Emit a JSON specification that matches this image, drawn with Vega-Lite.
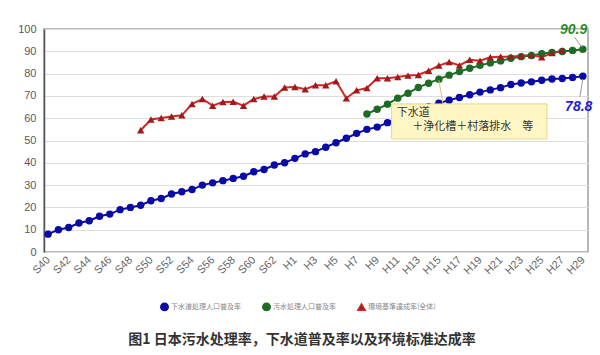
{
  "$schema": "https://vega.github.io/schema/vega-lite/v6.json",
  "width": 544,
  "height": 223,
  "autosize": {"type": "none"},
  "padding": {"left": 44, "top": 29, "right": 12, "bottom": 103},
  "background": "white",
  "config": {
    "view": {"stroke": "#a0a0a0", "strokeWidth": 1.5},
    "font": "Liberation Sans"
  },
  "title": {
    "text": "图1 日本污水处理率，下水道普及率以及环境标准达成率",
    "orient": "bottom",
    "anchor": "middle",
    "frame": "group",
    "offset": 19,
    "dx": -14,
    "font": "Noto Sans CJK SC",
    "fontSize": 14,
    "fontWeight": "bold",
    "color": "#333333"
  },
  "layer": [
    {
      "data": {
        "values": [
          {"year": 1965, "series": "下水道処理人口普及率", "value": 8},
          {"year": 1966, "series": "下水道処理人口普及率", "value": 10},
          {"year": 1967, "series": "下水道処理人口普及率", "value": 11},
          {"year": 1968, "series": "下水道処理人口普及率", "value": 13},
          {"year": 1969, "series": "下水道処理人口普及率", "value": 14},
          {"year": 1970, "series": "下水道処理人口普及率", "value": 16},
          {"year": 1971, "series": "下水道処理人口普及率", "value": 17},
          {"year": 1972, "series": "下水道処理人口普及率", "value": 19},
          {"year": 1973, "series": "下水道処理人口普及率", "value": 20},
          {"year": 1974, "series": "下水道処理人口普及率", "value": 21},
          {"year": 1975, "series": "下水道処理人口普及率", "value": 23},
          {"year": 1976, "series": "下水道処理人口普及率", "value": 24},
          {"year": 1977, "series": "下水道処理人口普及率", "value": 26},
          {"year": 1978, "series": "下水道処理人口普及率", "value": 27},
          {"year": 1979, "series": "下水道処理人口普及率", "value": 28},
          {"year": 1980, "series": "下水道処理人口普及率", "value": 30},
          {"year": 1981, "series": "下水道処理人口普及率", "value": 31},
          {"year": 1982, "series": "下水道処理人口普及率", "value": 32},
          {"year": 1983, "series": "下水道処理人口普及率", "value": 33},
          {"year": 1984, "series": "下水道処理人口普及率", "value": 34},
          {"year": 1985, "series": "下水道処理人口普及率", "value": 36},
          {"year": 1986, "series": "下水道処理人口普及率", "value": 37},
          {"year": 1987, "series": "下水道処理人口普及率", "value": 39},
          {"year": 1988, "series": "下水道処理人口普及率", "value": 40},
          {"year": 1989, "series": "下水道処理人口普及率", "value": 42},
          {"year": 1990, "series": "下水道処理人口普及率", "value": 44},
          {"year": 1991, "series": "下水道処理人口普及率", "value": 45},
          {"year": 1992, "series": "下水道処理人口普及率", "value": 47},
          {"year": 1993, "series": "下水道処理人口普及率", "value": 49},
          {"year": 1994, "series": "下水道処理人口普及率", "value": 51},
          {"year": 1995, "series": "下水道処理人口普及率", "value": 53.2},
          {"year": 1996, "series": "下水道処理人口普及率", "value": 55},
          {"year": 1997, "series": "下水道処理人口普及率", "value": 56},
          {"year": 1998, "series": "下水道処理人口普及率", "value": 58},
          {"year": 1999, "series": "下水道処理人口普及率", "value": 60},
          {"year": 2000, "series": "下水道処理人口普及率", "value": 62},
          {"year": 2001, "series": "下水道処理人口普及率", "value": 63.5},
          {"year": 2002, "series": "下水道処理人口普及率", "value": 65.2},
          {"year": 2003, "series": "下水道処理人口普及率", "value": 66.7},
          {"year": 2004, "series": "下水道処理人口普及率", "value": 68.1},
          {"year": 2005, "series": "下水道処理人口普及率", "value": 69.3},
          {"year": 2006, "series": "下水道処理人口普及率", "value": 70.5},
          {"year": 2007, "series": "下水道処理人口普及率", "value": 71.7},
          {"year": 2008, "series": "下水道処理人口普及率", "value": 72.7},
          {"year": 2009, "series": "下水道処理人口普及率", "value": 73.7},
          {"year": 2010, "series": "下水道処理人口普及率", "value": 75.1},
          {"year": 2011, "series": "下水道処理人口普及率", "value": 75.8},
          {"year": 2012, "series": "下水道処理人口普及率", "value": 76.3},
          {"year": 2013, "series": "下水道処理人口普及率", "value": 77.0},
          {"year": 2014, "series": "下水道処理人口普及率", "value": 77.6},
          {"year": 2015, "series": "下水道処理人口普及率", "value": 77.8},
          {"year": 2016, "series": "下水道処理人口普及率", "value": 78.3},
          {"year": 2017, "series": "下水道処理人口普及率", "value": 78.8},
          {"year": 1996, "series": "汚水処理人口普及率", "value": 61.9},
          {"year": 1997, "series": "汚水処理人口普及率", "value": 64.0},
          {"year": 1998, "series": "汚水処理人口普及率", "value": 66.3},
          {"year": 1999, "series": "汚水処理人口普及率", "value": 69.0},
          {"year": 2000, "series": "汚水処理人口普及率", "value": 71.2},
          {"year": 2001, "series": "汚水処理人口普及率", "value": 73.8},
          {"year": 2002, "series": "汚水処理人口普及率", "value": 75.7},
          {"year": 2003, "series": "汚水処理人口普及率", "value": 77.5},
          {"year": 2004, "series": "汚水処理人口普及率", "value": 79.3},
          {"year": 2005, "series": "汚水処理人口普及率", "value": 80.9},
          {"year": 2006, "series": "汚水処理人口普及率", "value": 82.4},
          {"year": 2007, "series": "汚水処理人口普及率", "value": 83.7},
          {"year": 2008, "series": "汚水処理人口普及率", "value": 84.8},
          {"year": 2009, "series": "汚水処理人口普及率", "value": 85.7},
          {"year": 2010, "series": "汚水処理人口普及率", "value": 86.9},
          {"year": 2011, "series": "汚水処理人口普及率", "value": 87.6},
          {"year": 2012, "series": "汚水処理人口普及率", "value": 88.1},
          {"year": 2013, "series": "汚水処理人口普及率", "value": 88.9},
          {"year": 2014, "series": "汚水処理人口普及率", "value": 89.5},
          {"year": 2015, "series": "汚水処理人口普及率", "value": 89.9},
          {"year": 2016, "series": "汚水処理人口普及率", "value": 90.4},
          {"year": 2017, "series": "汚水処理人口普及率", "value": 90.9},
          {"year": 1974, "series": "環境基準達成率(全体)", "value": 54.6},
          {"year": 1975, "series": "環境基準達成率(全体)", "value": 59.4},
          {"year": 1976, "series": "環境基準達成率(全体)", "value": 60.1},
          {"year": 1977, "series": "環境基準達成率(全体)", "value": 60.8},
          {"year": 1978, "series": "環境基準達成率(全体)", "value": 61.3},
          {"year": 1979, "series": "環境基準達成率(全体)", "value": 66.4},
          {"year": 1980, "series": "環境基準達成率(全体)", "value": 68.6},
          {"year": 1981, "series": "環境基準達成率(全体)", "value": 65.6},
          {"year": 1982, "series": "環境基準達成率(全体)", "value": 67.3},
          {"year": 1983, "series": "環境基準達成率(全体)", "value": 67.4},
          {"year": 1984, "series": "環境基準達成率(全体)", "value": 65.6},
          {"year": 1985, "series": "環境基準達成率(全体)", "value": 68.6},
          {"year": 1986, "series": "環境基準達成率(全体)", "value": 69.7},
          {"year": 1987, "series": "環境基準達成率(全体)", "value": 69.7},
          {"year": 1988, "series": "環境基準達成率(全体)", "value": 73.8},
          {"year": 1989, "series": "環境基準達成率(全体)", "value": 74.0},
          {"year": 1990, "series": "環境基準達成率(全体)", "value": 73.0},
          {"year": 1991, "series": "環境基準達成率(全体)", "value": 74.8},
          {"year": 1992, "series": "環境基準達成率(全体)", "value": 74.8},
          {"year": 1993, "series": "環境基準達成率(全体)", "value": 76.6},
          {"year": 1994, "series": "環境基準達成率(全体)", "value": 68.9},
          {"year": 1995, "series": "環境基準達成率(全体)", "value": 72.5},
          {"year": 1996, "series": "環境基準達成率(全体)", "value": 73.5},
          {"year": 1997, "series": "環境基準達成率(全体)", "value": 77.9},
          {"year": 1998, "series": "環境基準達成率(全体)", "value": 77.9},
          {"year": 1999, "series": "環境基準達成率(全体)", "value": 78.5},
          {"year": 2000, "series": "環境基準達成率(全体)", "value": 79.1},
          {"year": 2001, "series": "環境基準達成率(全体)", "value": 79.4},
          {"year": 2002, "series": "環境基準達成率(全体)", "value": 81.3},
          {"year": 2003, "series": "環境基準達成率(全体)", "value": 83.6},
          {"year": 2004, "series": "環境基準達成率(全体)", "value": 85.2},
          {"year": 2005, "series": "環境基準達成率(全体)", "value": 83.7},
          {"year": 2006, "series": "環境基準達成率(全体)", "value": 86.2},
          {"year": 2007, "series": "環境基準達成率(全体)", "value": 85.8},
          {"year": 2008, "series": "環境基準達成率(全体)", "value": 87.3},
          {"year": 2009, "series": "環境基準達成率(全体)", "value": 87.6},
          {"year": 2010, "series": "環境基準達成率(全体)", "value": 87.6},
          {"year": 2011, "series": "環境基準達成率(全体)", "value": 88.0},
          {"year": 2012, "series": "環境基準達成率(全体)", "value": 88.3},
          {"year": 2013, "series": "環境基準達成率(全体)", "value": 87.3},
          {"year": 2014, "series": "環境基準達成率(全体)", "value": 89.2},
          {"year": 2015, "series": "環境基準達成率(全体)", "value": 90.4}
        ]
      },
      "encoding": {
        "x": {
          "field": "year",
          "type": "quantitative",
          "scale": {"domain": [1964.6, 2017.5], "nice": false, "zero": false},
          "axis": {
            "title": null,
            "values": [1965, 1967, 1969, 1971, 1973, 1975, 1977, 1979, 1981, 1983, 1985, 1987, 1989, 1991, 1993, 1995, 1997, 1999, 2001, 2003, 2005, 2007, 2009, 2011, 2013, 2015, 2017],
            "labelExpr": "datum.value <= 1988 ? 'S' + (datum.value - 1925) : 'H' + (datum.value - 1988)",
            "labelAngle": -45,
            "labelAlign": "right",
            "labelBaseline": "middle",
            "labelFontSize": 11,
            "labelColor": "#666666",
            "labelPadding": 6,
            "ticks": false,
            "grid": false,
            "domain": false,
            "labelOverlap": false
          }
        },
        "y": {
          "field": "value",
          "type": "quantitative",
          "scale": {"domain": [0, 100], "nice": false},
          "axis": {
            "title": null,
            "values": [0, 10, 20, 30, 40, 50, 60, 70, 80, 90, 100],
            "labelFontSize": 11,
            "labelColor": "#595959",
            "labelPadding": 8,
            "ticks": false,
            "grid": true,
            "gridColor": "#dedede",
            "domainColor": "#555555",
            "domainWidth": 1.5
          }
        }
      },
      "layer": [
        {
          "mark": {"type": "line", "strokeWidth": 2},
          "encoding": {
            "color": {
              "field": "series",
              "type": "nominal",
              "scale": {
                "domain": ["下水道処理人口普及率", "汚水処理人口普及率", "環境基準達成率(全体)"],
                "range": ["#0a0aa5", "#1d6b24", "#d02828"]
              },
              "legend": {
                "orient": "none",
                "legendX": 116,
                "legendY": 273,
                "direction": "horizontal",
                "title": null,
                "labelFont": "Noto Sans CJK JP",
                "labelFontSize": 7,
                "labelColor": "#888888",
                "labelOffset": 2,
                "columnPadding": 18,
                "symbolSize": 256,
                "symbolStrokeWidth": 1.5,
                "symbolType": "M-1,0H1M0.3,0A0.3,0.3 0 1,1 -0.3,0A0.3,0.3 0 1,1 0.3,0Z"
              }
            }
          }
        },
        {
          "mark": {"type": "point", "filled": true, "opacity": 1},
          "encoding": {
            "color": {
              "field": "series",
              "type": "nominal",
              "scale": {
                "domain": ["下水道処理人口普及率", "汚水処理人口普及率", "環境基準達成率(全体)"],
                "range": ["#0a0aa5", "#1d6b24", "#d02828"]
              }
            },
            "fill": {
              "field": "series",
              "type": "nominal",
              "scale": {
                "domain": ["下水道処理人口普及率", "汚水処理人口普及率", "環境基準達成率(全体)"],
                "range": ["#0a0aa5", "#1d6b24", "#9e1b1b"]
              },
              "legend": null
            },
            "shape": {
              "field": "series",
              "type": "nominal",
              "scale": {
                "domain": ["下水道処理人口普及率", "汚水処理人口普及率", "環境基準達成率(全体)"],
                "range": ["circle", "circle", "triangle-up"]
              },
              "legend": null
            },
            "size": {
              "field": "series",
              "type": "nominal",
              "scale": {
                "domain": ["下水道処理人口普及率", "汚水処理人口普及率", "環境基準達成率(全体)"],
                "range": [55, 55, 40]
              },
              "legend": null
            }
          }
        }
      ]
    },
    {
      "data": {"values": [{}]},
      "mark": {"type": "rect", "fill": "#fff6c4", "stroke": "#e6d88c", "strokeWidth": 1},
      "encoding": {
        "x": {"datum": 1998.4, "type": "quantitative", "axis": {"values": [1965, 1967, 1969, 1971, 1973, 1975, 1977, 1979, 1981, 1983, 1985, 1987, 1989, 1991, 1993, 1995, 1997, 1999, 2001, 2003, 2005, 2007, 2009, 2011, 2013, 2015, 2017]}},
        "x2": {"datum": 2013.5},
        "y": {"datum": 66.4, "type": "quantitative", "axis": {"values": [0, 10, 20, 30, 40, 50, 60, 70, 80, 90, 100]}},
        "y2": {"datum": 50.7}
      }
    },
    {
      "data": {"values": [{}]},
      "mark": {"type": "rule", "stroke": "#d8c47a", "strokeWidth": 1},
      "encoding": {
        "x": {"datum": 2003.4, "type": "quantitative", "axis": {"values": [1965, 1967, 1969, 1971, 1973, 1975, 1977, 1979, 1981, 1983, 1985, 1987, 1989, 1991, 1993, 1995, 1997, 1999, 2001, 2003, 2005, 2007, 2009, 2011, 2013, 2015, 2017]}},
        "x2": {"datum": 2003.0},
        "y": {"datum": 66.4, "type": "quantitative", "axis": {"values": [0, 10, 20, 30, 40, 50, 60, 70, 80, 90, 100]}},
        "y2": {"datum": 77.0}
      }
    },
    {
      "data": {"values": [{}]},
      "mark": {"type": "text", "text": "下水道", "align": "left", "baseline": "middle", "font": "Noto Sans CJK JP", "fontSize": 11, "color": "#333333"},
      "encoding": {
        "x": {"datum": 1998.9, "type": "quantitative", "axis": {"values": [1965, 1967, 1969, 1971, 1973, 1975, 1977, 1979, 1981, 1983, 1985, 1987, 1989, 1991, 1993, 1995, 1997, 1999, 2001, 2003, 2005, 2007, 2009, 2011, 2013, 2015, 2017]}},
        "y": {"datum": 62.5, "type": "quantitative", "axis": {"values": [0, 10, 20, 30, 40, 50, 60, 70, 80, 90, 100]}}
      }
    },
    {
      "data": {"values": [{}]},
      "mark": {"type": "text", "text": "＋浄化槽＋村落排水　等", "align": "left", "baseline": "middle", "font": "Noto Sans CJK JP", "fontSize": 11, "color": "#333333"},
      "encoding": {
        "x": {"datum": 2000.4, "type": "quantitative", "axis": {"values": [1965, 1967, 1969, 1971, 1973, 1975, 1977, 1979, 1981, 1983, 1985, 1987, 1989, 1991, 1993, 1995, 1997, 1999, 2001, 2003, 2005, 2007, 2009, 2011, 2013, 2015, 2017]}},
        "y": {"datum": 55.9, "type": "quantitative", "axis": {"values": [0, 10, 20, 30, 40, 50, 60, 70, 80, 90, 100]}}
      }
    },
    {
      "data": {"values": [{}]},
      "mark": {"type": "rule", "stroke": "#999999", "strokeWidth": 1},
      "encoding": {
        "x": {"datum": 2016.2, "type": "quantitative", "axis": {"values": [1965, 1967, 1969, 1971, 1973, 1975, 1977, 1979, 1981, 1983, 1985, 1987, 1989, 1991, 1993, 1995, 1997, 1999, 2001, 2003, 2005, 2007, 2009, 2011, 2013, 2015, 2017]}},
        "x2": {"datum": 2016.9},
        "y": {"datum": 96.3, "type": "quantitative", "axis": {"values": [0, 10, 20, 30, 40, 50, 60, 70, 80, 90, 100]}},
        "y2": {"datum": 91.8}
      }
    },
    {
      "data": {"values": [{}]},
      "mark": {"type": "rule", "stroke": "#999999", "strokeWidth": 1},
      "encoding": {
        "x": {"datum": 2017.0, "type": "quantitative", "axis": {"values": [1965, 1967, 1969, 1971, 1973, 1975, 1977, 1979, 1981, 1983, 1985, 1987, 1989, 1991, 1993, 1995, 1997, 1999, 2001, 2003, 2005, 2007, 2009, 2011, 2013, 2015, 2017]}},
        "x2": {"datum": 2016.7},
        "y": {"datum": 77.6, "type": "quantitative", "axis": {"values": [0, 10, 20, 30, 40, 50, 60, 70, 80, 90, 100]}},
        "y2": {"datum": 69.5}
      }
    },
    {
      "data": {"values": [{}]},
      "mark": {"type": "text", "text": "90.9", "align": "center", "baseline": "middle", "fontSize": 14, "fontWeight": "bold", "fontStyle": "italic", "color": "#2b8a2b"},
      "encoding": {
        "x": {"datum": 2016.1, "type": "quantitative", "axis": {"values": [1965, 1967, 1969, 1971, 1973, 1975, 1977, 1979, 1981, 1983, 1985, 1987, 1989, 1991, 1993, 1995, 1997, 1999, 2001, 2003, 2005, 2007, 2009, 2011, 2013, 2015, 2017]}},
        "y": {"datum": 99.6, "type": "quantitative", "axis": {"values": [0, 10, 20, 30, 40, 50, 60, 70, 80, 90, 100]}}
      }
    },
    {
      "data": {"values": [{}]},
      "mark": {"type": "text", "text": "78.8", "align": "center", "baseline": "middle", "fontSize": 14, "fontWeight": "bold", "fontStyle": "italic", "color": "#2222cc"},
      "encoding": {
        "x": {"datum": 2016.6, "type": "quantitative", "axis": {"values": [1965, 1967, 1969, 1971, 1973, 1975, 1977, 1979, 1981, 1983, 1985, 1987, 1989, 1991, 1993, 1995, 1997, 1999, 2001, 2003, 2005, 2007, 2009, 2011, 2013, 2015, 2017]}},
        "y": {"datum": 65.2, "type": "quantitative", "axis": {"values": [0, 10, 20, 30, 40, 50, 60, 70, 80, 90, 100]}}
      }
    }
  ]
}
